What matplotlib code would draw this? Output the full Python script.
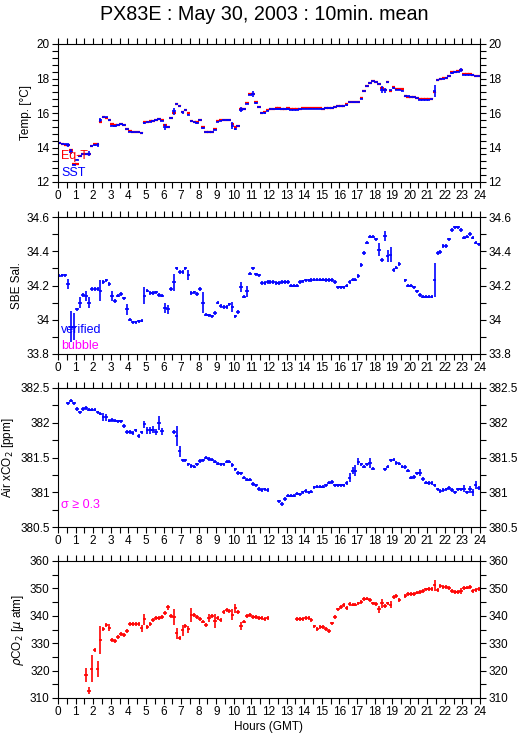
import numpy as np
import matplotlib
matplotlib.use('Agg')
import matplotlib.pyplot as plt
from matplotlib.ticker import MultipleLocator

plt.rcParams['font.family'] = ['Liberation Sans', 'DejaVu Sans']

nan = np.nan

# 10 minute bins, six per hour (row = one hour)
sst = [
    14.25, 14.22, 14.18, 14.13, 13.75, 13.0,
    13.3, 13.5, 13.6, 13.6, 13.65, 14.07,
    14.15, 14.15, 15.57, 15.75, 15.75, 15.6,
    15.27, 15.25, 15.3, 15.36, 15.3, 15.05,
    14.92, 14.88, 14.88, 14.88, 14.85, 15.42,
    15.5, 15.5, 15.55, 15.6, 15.65, 15.55,
    15.19, 15.19, 15.7, 16.1, 16.54, 16.38,
    16.04, 16.2, 15.9, 15.52, 15.46, 15.42,
    15.6, 15.13, 14.88, 14.88, 14.88, 15.03,
    15.5, 15.55, 15.6, 15.6, 15.6, 15.25,
    15.07, 15.27, 16.2, 16.23, 16.54, 17.06,
    17.1, 16.58, 16.35, 16.0, 16.0, 16.13,
    16.23, 16.23, 16.23, 16.23, 16.23, 16.23,
    16.23, 16.2, 16.2, 16.2, 16.22, 16.25,
    16.25, 16.25, 16.25, 16.25, 16.25, 16.25,
    16.25, 16.28, 16.29, 16.29, 16.33, 16.38,
    16.38, 16.38, 16.46, 16.62, 16.62, 16.62,
    16.62, 16.83, 17.26, 17.55, 17.74, 17.84,
    17.78, 17.7, 17.35, 17.31, 17.78, 17.31,
    17.45, 17.35, 17.35, 17.3, 16.97, 16.97,
    16.95, 16.9, 16.85, 16.77, 16.77, 16.77,
    16.77, 16.8, 17.3, 17.9, 18.0, 18.0,
    18.03, 18.13, 18.32, 18.38, 18.4, 18.5,
    18.22, 18.22, 18.22, 18.2, 18.13, 18.13,
]
eqt = [
    14.27, 14.23, 14.17, 14.12, 13.85, 13.05,
    13.05, 13.5, 13.6, 13.62, 13.6, 14.1,
    14.2, 14.2, 15.48, 15.75, 15.72, 15.62,
    15.35, 15.28, 15.3, 15.35, 15.3, 15.1,
    14.95, 14.9, 14.9, 14.88, 14.85, 15.45,
    15.5, 15.52, 15.55, 15.62, 15.65, 15.6,
    15.3, 15.2, 15.72, 16.0, 16.55, 16.42,
    16.05, 16.15, 15.98, 15.55, 15.5, 15.45,
    15.62, 15.18, 14.92, 14.9, 14.9, 15.05,
    15.55, 15.58, 15.62, 15.62, 15.62, 15.38,
    15.2, 15.27, 16.22, 16.25, 16.58, 17.08,
    17.12, 16.62, 16.32, 16.02, 16.03, 16.15,
    16.25, 16.25, 16.28, 16.28, 16.26, 16.25,
    16.28, 16.22, 16.22, 16.22, 16.25, 16.28,
    16.28, 16.28, 16.28, 16.28, 16.27, 16.28,
    16.26, 16.3, 16.3, 16.3, 16.35, 16.4,
    16.4, 16.42, 16.5, 16.64, 16.64, 16.64,
    16.64, 16.85, 17.28, 17.55, 17.76, 17.85,
    17.8, 17.7, 17.45, 17.35, 17.82, 17.3,
    17.48, 17.38, 17.38, 17.4, 16.98, 16.95,
    16.95, 16.92, 16.88, 16.8, 16.8, 16.8,
    16.8, 16.82, 17.2, 17.9, 17.98, 18.02,
    18.05, 18.15, 18.35, 18.4, 18.42, 18.5,
    18.27, 18.27, 18.25, 18.22, 18.15, 18.15,
]
sal = [
    34.257, 34.26, 34.26, 34.21, 33.96, 33.96,
    34.06, 34.1, 34.145, 34.14, 34.1, 34.18,
    34.18, 34.18, 34.17, 34.22, 34.23, 34.21,
    34.14, 34.11, 34.14, 34.15, 34.125, 34.06,
    34.0, 33.985, 33.985, 33.99, 33.995, 34.14,
    34.17, 34.155, 34.155, 34.16, 34.145, 34.14,
    34.07, 34.06, 34.18, 34.22, 34.3, 34.28,
    34.28, 34.3, 34.26, 34.155, 34.16, 34.15,
    34.18, 34.1, 34.03, 34.025, 34.02, 34.04,
    34.1, 34.08, 34.075, 34.075, 34.09, 34.075,
    34.02, 34.045, 34.19, 34.135, 34.165, 34.27,
    34.3, 34.265, 34.26, 34.215, 34.215, 34.22,
    34.22, 34.22, 34.215, 34.215, 34.22, 34.22,
    34.22, 34.2, 34.2, 34.2, 34.22, 34.225,
    34.23, 34.23, 34.232, 34.235, 34.235, 34.235,
    34.235, 34.233, 34.232, 34.232, 34.22, 34.19,
    34.19, 34.19, 34.2, 34.22, 34.235, 34.235,
    34.255, 34.32, 34.39, 34.45, 34.485, 34.485,
    34.47, 34.41, 34.35, 34.49, 34.37, 34.38,
    34.29, 34.305, 34.325, nan, 34.23, 34.2,
    34.2, 34.19, 34.165, 34.145, 34.135, 34.135,
    34.135, 34.135, 34.23, 34.39, 34.395, 34.43,
    34.43, 34.47, 34.525, 34.54, 34.54, 34.525,
    34.48, 34.485, 34.5, 34.48, 34.45, 34.44,
]
xco2 = [
    nan, nan, nan, 382.28, 382.32, 382.28,
    382.2, 382.15, 382.2, 382.21, 382.19, 382.19,
    382.19, 382.15, 382.13, 382.08, 382.08, 382.03,
    382.04, 382.03, 382.02, 382.02, 381.95, 381.87,
    381.87, 381.85, 381.89, 381.81, 381.86, 381.98,
    381.89, 381.89, 381.9, 381.87, 381.99, 381.88,
    nan, nan, nan, 381.87, 381.81, 381.59,
    381.46, 381.46, 381.4, 381.38, 381.37, 381.4,
    381.45, 381.46, 381.5, 381.48, 381.47, 381.44,
    381.41, 381.4, 381.4, 381.44, 381.44, 381.39,
    381.33, 381.28, 381.27, 381.21, 381.18, 381.18,
    381.12, 381.1, 381.05, 381.03, 381.04, 381.03,
    nan, nan, nan, 380.87, 380.83, 380.9,
    380.95, 380.95, 380.95, 380.98, 380.97, 381.0,
    381.02, 381.0, 381.01, 381.07, 381.08, 381.08,
    381.08, 381.1, 381.14, 381.15, 381.1, 381.1,
    381.1, 381.1, 381.13, 381.21, 381.31, 381.31,
    381.44, 381.4, 381.37, 381.4, 381.42, 381.34,
    nan, nan, nan, 381.33, 381.37, 381.46,
    381.47, 381.42, 381.41, 381.37, 381.36, 381.31,
    381.21, 381.22, 381.27, 381.28, 381.19, 381.14,
    381.13, 381.13, 381.1, 381.04, 381.02, 381.03,
    381.04, 381.06, 381.03, 381.0, 381.04, 381.04,
    381.05, 381.0, 381.04, 381.0, 381.1, 381.06,
]
pco2 = [
    nan, nan, nan, nan, nan, nan,
    nan, nan, nan, 318.5, 312.7, 320.7,
    327.6, 320.5, 331.2, 335.1, 336.6, 335.7,
    331.2, 330.8, 332.2, 333.4, 333.0, 334.5,
    337.0, 336.9, 336.9, 336.9, 335.4, 338.7,
    335.8, 337.0, 338.5, 339.1, 339.1, 339.7,
    341.1, 343.1, 340.0, 339.5, 333.6, 331.8,
    334.8, 336.3, 335.1, 340.3, 340.3, 339.7,
    338.9, 337.9, 336.6, 339.1, 340.0, 338.2,
    339.1, 338.5, 341.5, 342.1, 341.9, 340.3,
    342.7, 341.5, 336.3, 337.9, 340.0, 340.3,
    339.7, 339.7, 339.1, 339.3, 338.7, 339.1,
    nan, nan, nan, nan, nan, nan,
    nan, nan, nan, 338.7, 338.7, 338.7,
    339.1, 339.3, 338.5, 336.1, 335.2, 336.0,
    336.0, 335.2, 334.5, 337.2, 339.7, 342.3,
    343.3, 343.9, 342.7, 344.3, 344.1, 344.1,
    344.5, 344.9, 346.0, 346.3, 345.7, 344.5,
    344.3, 342.3, 344.5, 343.7, 344.5, 344.1,
    346.9, 347.2, 345.7, nan, 347.2, 348.1,
    347.9, 348.1, 348.5, 348.7, 349.1, 349.6,
    349.7, 349.7, 351.2, 349.4, 350.8, 350.6,
    350.6, 350.0, 349.0, 348.7, 348.7, 349.1,
    350.0, 350.3, 350.6, 349.1, 349.4, 349.7,
]

# larger standard deviations (bin index -> half length), rest use a small default
sst_big = {3: 0.12, 4: 0.15, 10: 0.12, 13: 0.12, 14: 0.12, 36: 0.15, 39: 0.2,
           42: 0.1, 59: 0.2, 62: 0.15, 66: 0.15, 110: 0.2, 111: 0.15, 128: 0.35, 137: 0.1}
sal_big = {3: 0.03, 4: 0.09, 5: 0.08, 7: 0.03, 9: 0.03, 10: 0.03, 14: 0.06, 18: 0.03,
           23: 0.03, 29: 0.05, 36: 0.03, 37: 0.025, 39: 0.05, 44: 0.03, 49: 0.06,
           59: 0.03, 62: 0.03, 64: 0.03, 109: 0.04, 111: 0.03, 112: 0.035, 113: 0.045,
           128: 0.1}
xco2_big = {15: 0.06, 16: 0.05, 29: 0.05, 30: 0.05, 31: 0.05, 32: 0.05, 33: 0.04,
            34: 0.1, 35: 0.05, 40: 0.15, 41: 0.08, 99: 0.06, 100: 0.05, 101: 0.08,
            102: 0.05, 106: 0.07, 123: 0.05, 138: 0.05, 140: 0.05, 141: 0.05, 142: 0.06}
pco2_big = {9: 2.5, 10: 1.2, 11: 5, 13: 3, 14: 5, 17: 1.2, 28: 1.2, 29: 2, 37: 1,
            39: 3, 40: 2, 42: 2, 44: 1.3, 45: 2.5, 51: 1.5, 53: 2.5, 59: 2, 60: 1.5,
            62: 1.5, 109: 1.2, 110: 1.5, 113: 1.2, 128: 2, 137: 1.2}

hours = (np.arange(144) + 0.5) / 6.0


def errs(big, base):
    e = np.full(144, base)
    for k, v in big.items():
        e[k] = v
    return e


fig = plt.figure(figsize=(5.29, 7.39), dpi=100)
fig.text(0.5, 0.981, 'PX83E : May 30, 2003 : 10min. mean', ha='center', va='center', fontsize=14.2)

left, width = 58 / 529, 422 / 529
tops = [44, 217, 388, 561]
heights = [138, 137, 139, 137]

panels = [
    (12, 20, 2, 0.4, 'Temp. [°C]'),
    (33.8, 34.6, 0.2, 0.1, 'SBE Sal.'),
    (380.5, 382.5, 0.5, 0.25, 'Air xCO$_2$ [ppm]'),
    (310, 360, 10, 5, r'$\rho$CO$_2$ [$\mu$ atm]'),
]

axes = []
for i in range(4):
    b = 1 - (tops[i] + heights[i]) / 739
    ax = fig.add_axes([left, b, width, heights[i] / 739])
    lo, hi, maj, mnr, lab = panels[i]
    ax.set_xlim(0, 24)
    ax.set_ylim(lo, hi)
    ax.xaxis.set_major_locator(MultipleLocator(1))
    ax.xaxis.set_minor_locator(MultipleLocator(0.5))
    ax.yaxis.set_major_locator(MultipleLocator(maj))
    ax.yaxis.set_minor_locator(MultipleLocator(mnr))
    ax.tick_params(which='both', direction='out', top=True, right=True, labelright=True,
                   length=4, width=0.8, labelsize=8.5, pad=2)
    ax.set_ylabel(lab, fontsize=8.5, labelpad=3)
    ax.yaxis.set_major_formatter(matplotlib.ticker.FormatStrFormatter('%g'))
    for s in ax.spines.values():
        s.set_linewidth(0.8)
    axes.append(ax)

blue = '#0000ff'
red = '#ff0000'
mag = '#ff00ff'
kw = dict(fmt='none', xerr=0.1, capsize=0)

axes[0].errorbar(hours, eqt, yerr=errs({}, 0.03), ecolor=red, elinewidth=1.6, **kw)
axes[0].errorbar(hours, sst, yerr=errs(sst_big, 0.04), ecolor=blue, elinewidth=1.2, **kw)
axes[1].errorbar(hours, sal, yerr=errs(sal_big, 0.01), ecolor=blue, elinewidth=1.2, **kw)
axes[2].errorbar(hours, xco2, yerr=errs(xco2_big, 0.025), ecolor=blue, elinewidth=1.2, **kw)
axes[3].errorbar(hours, pco2, yerr=errs(pco2_big, 0.7), ecolor=red, elinewidth=1.2, **kw)

axes[0].text(0.008, 0.17, 'Eq-T', color=red, fontsize=9, transform=axes[0].transAxes)
axes[0].text(0.008, 0.04, 'SST', color=blue, fontsize=9, transform=axes[0].transAxes)
axes[1].text(0.008, 0.15, 'verified', color=blue, fontsize=9, transform=axes[1].transAxes)
axes[1].text(0.008, 0.04, 'bubble', color=mag, fontsize=9, transform=axes[1].transAxes)
axes[2].text(0.008, 0.14, 'σ ≥ 0.3', color=mag, fontsize=9, transform=axes[2].transAxes)

axes[3].set_xlabel('Hours (GMT)', fontsize=8.5, labelpad=2)

fig.savefig('out.png', dpi=100)
